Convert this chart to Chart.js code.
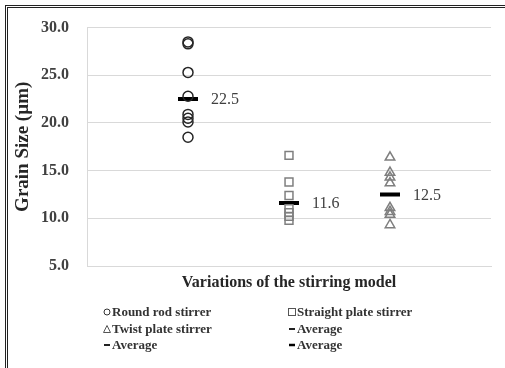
<!DOCTYPE html>
<html>
<head>
<meta charset="utf-8">
<script src="https://cdn.jsdelivr.net/npm/chart.js@4/dist/chart.umd.min.js"></script>
<style>
  html, body { margin: 0; padding: 0; background: #fff; overflow: hidden; }
  #wrap { position: relative; width: 505px; height: 368px; overflow: hidden; background: #fff; }
  #frame { position: absolute; left: 5px; top: 5px; width: 600px; height: 400px;
           border-left: 3px double #222; border-top: 3px double #222; box-sizing: border-box; }
  canvas { position: absolute; left: 0; top: 0; }
  .lg { position: absolute; font-family: "Liberation Serif", serif; font-weight: bold;
        font-size: 13px; color: #333; white-space: nowrap; line-height: 16px; }
  .lg svg { position: absolute; left: 0; top: 4px; }
  .lg span { position: absolute; left: 9px; top: 0; }
</style>
</head>
<body>
<div id="wrap">
  <div id="frame"></div>
  <canvas id="c" width="505" height="368"></canvas>
  <div id="legend"></div>
</div>
<script>
// ---- data ----
const categories = ['Round rod stirrer', 'Straight plate stirrer', 'Twist plate stirrer'];
const roundRod = [28.5, 28.3, 25.3, 22.8, 20.9, 20.5, 20.1, 18.5];
const straightPlate = [16.6, 13.8, 12.4, 11.0, 10.6, 10.2, 9.8];
const twistPlate = [16.4, 14.8, 14.3, 13.7, 11.1, 10.7, 10.4, 9.3];
const averages = [22.5, 11.6, 12.5];
const avgLabels = ['22.5', '11.6', '12.5'];
const legendLabels = ['Round rod stirrer', 'Straight plate stirrer', 'Twist plate stirrer', 'Average', 'Average', 'Average'];
const yMin = 5, yMax = 30, yStep = 5;
const xTitle = 'Variations of the stirring model';
const yTitle = 'Grain Size (\u00b5m)';

const seriesValues = [roundRod, straightPlate, twistPlate];
const markerStyles = ['circle', 'rect', 'triangle'];
const markerRadius = [5, 5.6, 5.5];
const markerColors = ['#262626', '#7f7f7f', '#7f7f7f'];

const datasets = [];
seriesValues.forEach((vals, i) => {
  datasets.push({
    label: categories[i],
    data: vals.map(v => ({ x: i + 1, y: v })),
    pointStyle: markerStyles[i],
    pointRadius: markerRadius[i],
    borderColor: markerColors[i],
    backgroundColor: 'rgba(0,0,0,0)',
    borderWidth: 1.5,
    showLine: false
  });
});
averages.forEach((v, i) => {
  datasets.push({
    label: 'Average',
    data: [{ x: i + 1, y: v }],
    pointStyle: 'line',
    pointRadius: 10,
    borderColor: '#000',
    backgroundColor: '#000',
    borderWidth: 4,
    showLine: false,
    avgLabel: avgLabels[i]
  });
});

const avgLabelPlugin = {
  id: 'avgLabels',
  afterDatasetsDraw(chart) {
    const ctx = chart.ctx;
    ctx.save();
    ctx.font = '16px "Liberation Serif", serif';
    ctx.fillStyle = '#404040';
    ctx.textBaseline = 'middle';
    ctx.textAlign = 'left';
    chart.data.datasets.forEach((ds, di) => {
      if (!ds.avgLabel) return;
      const pt = chart.getDatasetMeta(di).data[0];
      ctx.fillText(ds.avgLabel, pt.x + 23, pt.y + 1);
    });
    ctx.restore();
  }
};

new Chart(document.getElementById('c'), {
  type: 'scatter',
  data: { datasets },
  options: {
    responsive: false,
    devicePixelRatio: 1,
    animation: false,
    events: [],
    layout: { padding: { left: 12, right: 6, top: 24, bottom: 76 } },
    plugins: { legend: { display: false }, tooltip: { enabled: false } },
    scales: {
      x: {
        type: 'linear', min: 0, max: 4,
        grid: { display: false, drawTicks: false },
        border: { display: true, color: '#d9d9d9', width: 1 },
        ticks: { display: false },
        title: { display: true, text: xTitle, color: '#262626',
                 font: { family: '"Liberation Serif", serif', size: 16, weight: 'bold' },
                 padding: { top: 8, bottom: 0 } },
        afterFit(s) { s.height = 26; }
      },
      y: {
        min: yMin, max: yMax,
        grid: { color: '#d9d9d9', drawTicks: false, lineWidth: 1 },
        border: { display: true, color: '#d9d9d9', width: 1 },
        ticks: { stepSize: yStep, padding: 18, color: '#404040',
                 font: { family: '"Liberation Serif", serif', size: 16, weight: 'bold' },
                 callback: v => Number(v).toFixed(1) },
        title: { display: true, text: yTitle, color: '#262626',
                 font: { family: '"Liberation Serif", serif', size: 19, weight: 'bold' },
                 padding: { top: 0, bottom: 0 } },
        afterFit(s) { s.width = 75; }
      }
    }
  },
  plugins: [avgLabelPlugin]
});

// ---- HTML legend ----
const legendPos = [[103, 304], [288, 304], [103, 321], [288, 321], [103, 337], [288, 337]];
const markerSvgs = [
  '<svg width="8" height="8"><circle cx="4" cy="4" r="3" fill="none" stroke="#333" stroke-width="1"/></svg>',
  '<svg width="8" height="8"><rect x="0.5" y="0.5" width="7" height="7" fill="none" stroke="#555" stroke-width="1"/></svg>',
  '<svg width="8" height="8"><polygon points="4,0.5 7.5,7.5 0.5,7.5" fill="none" stroke="#555" stroke-width="1"/></svg>',
  '<svg width="8" height="8"><line x1="1" y1="4" x2="7" y2="4" stroke="#222" stroke-width="2"/></svg>',
  '<svg width="8" height="8"><line x1="1" y1="4" x2="7" y2="4" stroke="#222" stroke-width="2"/></svg>',
  '<svg width="8" height="8"><line x1="1" y1="4" x2="7" y2="4" stroke="#000" stroke-width="2.5"/></svg>'
];
const lg = document.getElementById('legend');
legendLabels.forEach((t, i) => {
  const d = document.createElement('div');
  d.className = 'lg';
  d.style.left = legendPos[i][0] + 'px';
  d.style.top = legendPos[i][1] + 'px';
  d.innerHTML = markerSvgs[i] + '<span></span>';
  d.querySelector('span').textContent = t;
  lg.appendChild(d);
});
</script>
</body>
</html>
